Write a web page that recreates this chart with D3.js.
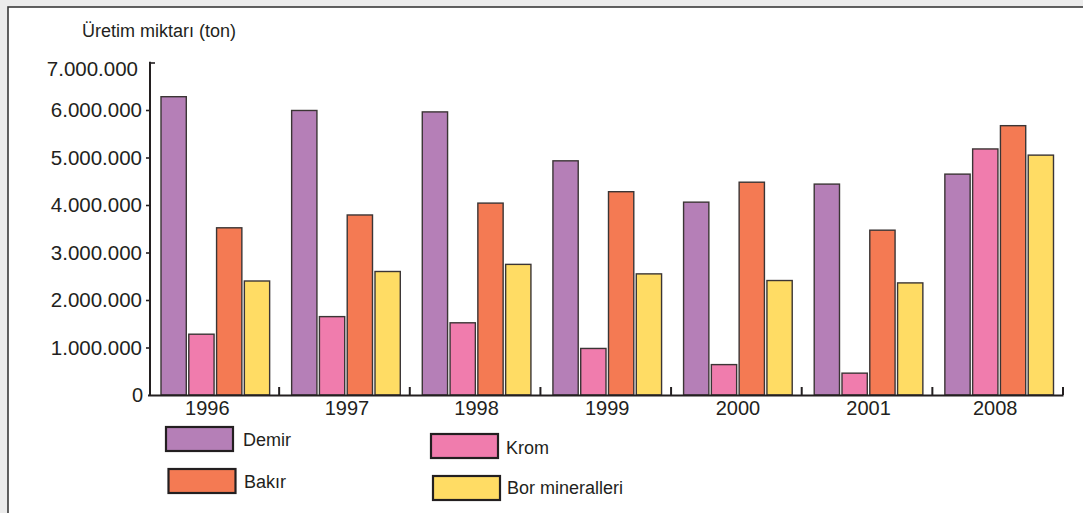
<!DOCTYPE html>
<html>
<head>
<meta charset="utf-8">
<script src="https://cdn.jsdelivr.net/npm/d3@7"></script>
<style>
  html, body { margin: 0; padding: 0; background: #ececec; }
  svg { display: block; }
  text { font-family: "Liberation Sans", Arial, Helvetica, sans-serif; fill: #231f20; }
</style>
</head>
<body>
<svg id="chart" width="1083" height="513"></svg>
<script>
const years = ['1996', '1997', '1998', '1999', '2000', '2001', '2008'];
const demir = [6280000, 5990000, 5960000, 4930000, 4060000, 4440000, 4650000];
const krom  = [1280000, 1650000, 1520000, 980000, 640000, 460000, 5180000];
const bakir = [3520000, 3790000, 4040000, 4280000, 4480000, 3470000, 5670000];
const bor   = [2400000, 2600000, 2750000, 2550000, 2410000, 2360000, 5050000];
const seriesNames = ['Demir', 'Krom', 'Bakır', 'Bor mineralleri'];
const seriesValues = [demir, krom, bakir, bor];
const seriesColors = ['#b57fb7', '#f07cad', '#f47a53', '#ffdc64'];
const yTicks = [0, 1000000, 2000000, 3000000, 4000000, 5000000, 6000000, 7000000];
const yTitle = 'Üretim miktarı (ton)';

const svg = d3.select('#chart');

// panel
svg.append('rect').attr('x', 8).attr('y', 7).attr('width', 1100).attr('height', 520)
  .attr('fill', '#ffffff').attr('stroke', '#3a3a3a').attr('stroke-width', 1.6);

const x0 = d3.scaleBand().domain(years).range([150, 1064.5]).paddingInner(0).paddingOuter(0);
const bw = x0.bandwidth();
const x1 = d3.scaleBand().domain(seriesNames).range([11, bw - 11]).paddingInner(0.09);
const y = d3.scaleLinear().domain([0, 7000000]).range([395, 62.5]);

const table = years.map((yr, i) => ({ year: yr, vals: seriesNames.map((s, j) => ({ key: s, value: seriesValues[j][i], color: seriesColors[j] })) }));

// bars
const groups = svg.append('g').selectAll('g').data(table).join('g')
  .attr('transform', d => `translate(${x0(d.year)},0)`);
groups.selectAll('rect').data(d => d.vals).join('rect')
  .attr('x', d => x1(d.key))
  .attr('width', x1.bandwidth())
  .attr('y', d => y(d.value))
  .attr('height', d => y(0) - y(d.value))
  .attr('fill', d => d.color)
  .attr('stroke', '#3b3535')
  .attr('stroke-width', 1.4);

// y axis
const fmt = d => d === 0 ? '0' : d3.format(',')(d).replace(/,/g, '.');
const yAxis = svg.append('g').attr('transform', 'translate(150,0)')
  .call(d3.axisLeft(y).tickValues(yTicks).tickSize(4).tickPadding(4).tickFormat(fmt));
yAxis.select('.domain').remove();
yAxis.selectAll('.tick line').attr('stroke', '#231f20').attr('stroke-width', 1.6);
yAxis.selectAll('.tick text').attr('font-size', 20.5).attr('fill', '#231f20')
  .attr('font-family', '"Liberation Sans", Arial, sans-serif');
yAxis.selectAll('.tick').filter(d => d === 7000000)
  .call(t => { t.select('line').attr('x2', 5); t.select('text').attr('x', -12).attr('dy', '0.62em'); });
yAxis.selectAll('.tick').filter(d => d === 0)
  .call(t => { t.select('line').remove(); t.select('text').attr('x', -7).attr('font-family', '"Liberation Serif", "Times New Roman", serif').attr('font-size', 20).attr('dy', '0.3em'); });
svg.append('line').attr('x1', 150).attr('x2', 150).attr('y1', y(7000000) - 0.8).attr('y2', y(0) + 1)
  .attr('stroke', '#231f20').attr('stroke-width', 2);

// x axis
const labelShift = { '1996': -8, '1997': 1, '2008': -4 };
const xAxis = svg.append('g').attr('transform', 'translate(0,395)')
  .call(d3.axisBottom(x0).tickSize(0).tickPadding(6));
xAxis.select('.domain').remove();
xAxis.selectAll('.tick text').attr('font-size', 20).attr('fill', '#231f20').attr('dy', '0.71em')
  .attr('dx', d => labelShift[d] || 0)
  .attr('font-family', '"Liberation Sans", Arial, sans-serif');
svg.append('line').attr('x1', 148).attr('x2', x0.range()[1] - 1).attr('y1', 395.5).attr('y2', 395.5)
  .attr('stroke', '#231f20').attr('stroke-width', 2.2);
svg.append('g').selectAll('line').data(years).join('line')
  .attr('x1', d => x0(d) + bw - 1.5).attr('x2', d => x0(d) + bw - 1.5)
  .attr('y1', 387).attr('y2', 395)
  .attr('stroke', '#231f20').attr('stroke-width', 2);

// y title
svg.append('text').attr('x', 82).attr('y', 37).attr('font-size', 18).text(yTitle);

// legend
const legendPos = [
  { bx: 166, by: 427, tx: 243, ty: 446 },
  { bx: 431, by: 434, tx: 506, ty: 454 },
  { bx: 168.5, by: 469, tx: 244, ty: 488 },
  { bx: 433, by: 476, tx: 507, ty: 494 }
];
const lg = svg.append('g').selectAll('g').data(seriesNames).join('g');
lg.append('rect')
  .attr('x', (d, i) => legendPos[i].bx).attr('y', (d, i) => legendPos[i].by)
  .attr('width', 67).attr('height', 24)
  .attr('fill', (d, i) => seriesColors[i]).attr('stroke', '#231f20').attr('stroke-width', 2.2);
lg.append('text')
  .attr('x', (d, i) => legendPos[i].tx).attr('y', (d, i) => legendPos[i].ty)
  .attr('font-size', 18).text(d => d);
</script>
</body>
</html>
